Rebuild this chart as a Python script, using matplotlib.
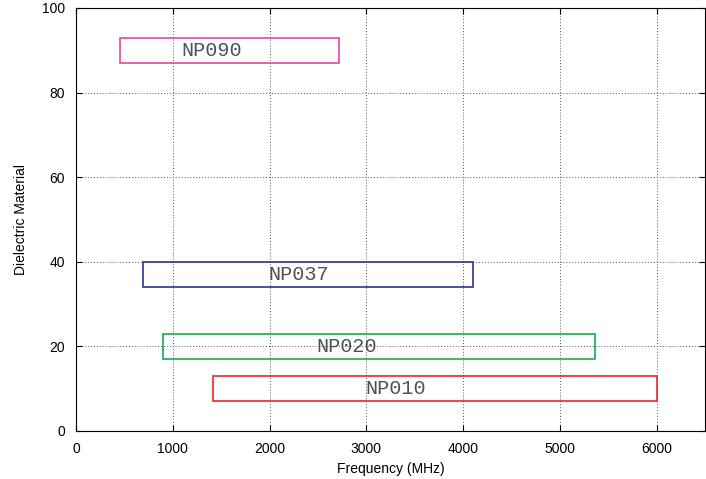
import matplotlib
matplotlib.use('Agg')
import matplotlib.pyplot as plt
from matplotlib.patches import Rectangle

# === Band data (MHz range, material value range) ===
names = ['NP090', 'NP037', 'NP020', 'NP010']
f_low = [450, 690, 900, 1420]
f_high = [2720, 4100, 5360, 6000]
y_low = [87, 34, 17, 7]
y_high = [93, 40, 23, 13]
label_x = [1400, 2300, 2800, 3300]
colors = ['#e0479e', '#2b3590', '#1aaa55', '#e8262b']

fig = plt.figure(figsize=(7.06, 4.79), dpi=100)
ax = fig.add_axes([76 / 706, 48 / 479, 629 / 706, 423 / 479])

for n, x0, x1, y0, y1, lx, c in zip(names, f_low, f_high, y_low, y_high, label_x, colors):
    ax.add_patch(Rectangle((x0, y0), x1 - x0, y1 - y0, fill=False, edgecolor=c, lw=1.2, zorder=3))
    ax.text(lx, (y0 + y1) / 2, n, family='Liberation Mono', fontsize=14.5, color='#505050',
            ha='center', va='center', zorder=4)

ax.set_xlim(0, 6500)
ax.set_ylim(0, 100)
ax.set_xticks([0, 1000, 2000, 3000, 4000, 5000, 6000])
ax.set_yticks([0, 20, 40, 60, 80, 100])
ax.tick_params(direction='in', labelsize=10, top=True, right=True, length=4)
ax.tick_params(axis='x', pad=8)
ax.tick_params(axis='y', pad=8)
ax.grid(True, color='#555555', linestyle=(0, (1, 2)), lw=0.7)
ax.set_xlabel('Frequency (MHz)', fontsize=10, family='Liberation Sans', labelpad=4)
ax.set_ylabel('Dielectric Material', fontsize=10, family='Liberation Sans', labelpad=10)
for lab in ax.get_xticklabels() + ax.get_yticklabels():
    lab.set_family('Liberation Sans')

plt.savefig('out.png', dpi=100)
